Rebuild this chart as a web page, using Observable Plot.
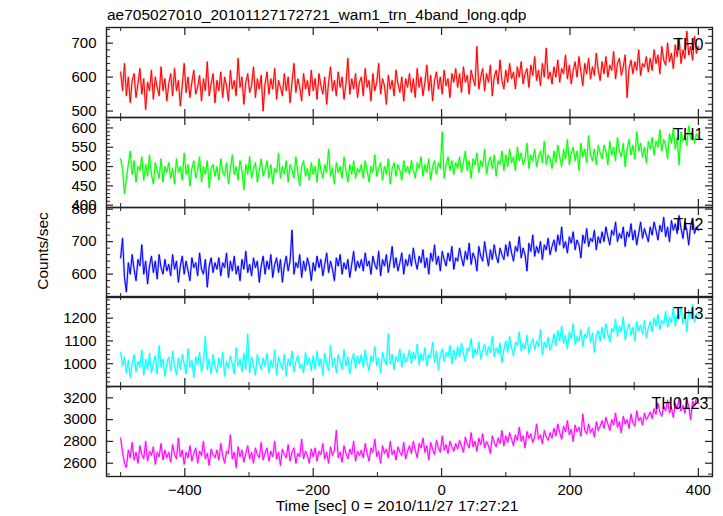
<!DOCTYPE html>
<html><head><meta charset="utf-8">
<script src="https://cdn.jsdelivr.net/npm/d3@7"></script>
<script src="https://cdn.jsdelivr.net/npm/@observablehq/plot@0.6"></script>
<style>
body{margin:0;background:#fff;font-family:"Liberation Sans",Arial,Helvetica,sans-serif;}
#wrap{position:relative;width:723px;height:516px;overflow:hidden;background:#fff;}
.t{position:absolute;color:#000;font-size:15.5px;line-height:1;white-space:nowrap;}
.panel{position:absolute;left:0;}
</style></head><body><div id="wrap">
<div class="t" style="left:107px;top:7px">ae705027010_20101127172721_wam1_trn_4band_long.qdp</div>
<div class="t" style="left:43px;top:251px;transform:translate(-50%,-50%) rotate(-90deg)">Counts/sec</div>
<div class="t" style="left:397px;top:506px;transform:translate(-50%,-50%)">Time [sec] 0 = 2010/11/27 17:27:21</div>
</div>
<script>
// time bins (sec), relative to 2010/11/27 17:27:21
const time = d3.range(-500, 401, 3);

const th0 = [
615,560,640,545,600,525,590,610,540,580,625,550,595,505,585,560,620,535,600,570,545,630,560,595,530,
580,610,545,625,560,590,515,575,640,555,600,540,585,620,550,570,605,530,595,560,645,545,580,610,525,
590,560,615,540,600,575,530,620,565,590,545,655,570,600,520,585,610,555,575,630,540,595,565,605,500,
580,615,550,595,565,625,535,590,570,545,610,560,600,525,585,640,555,595,570,530,610,565,590,545,620,
560,595,535,610,575,550,600,520,585,630,560,590,545,615,570,600,535,580,655,550,595,565,610,540,585,
600,545,625,570,590,530,610,560,585,640,550,595,575,520,605,565,590,545,620,580,555,600,530,595,570,
610,555,595,540,625,570,600,545,585,635,560,605,530,590,615,565,600,550,620,575,595,540,610,585,625,
570,610,555,630,585,605,550,620,595,575,690,565,600,625,560,610,585,635,545,600,620,580,650,590,565,
620,585,640,595,615,565,630,600,645,580,610,625,570,635,605,660,590,620,575,640,600,685,595,615,580,
630,600,650,585,625,610,665,595,635,580,620,645,600,660,615,575,640,610,655,595,630,605,670,620,590,
645,610,660,600,635,620,675,595,640,655,605,630,665,540,625,650,610,645,620,680,605,640,630,660,615,
655,620,680,640,665,610,690,650,635,700,645,670,625,695,660,715,640,680,655,735,665,690,650,720,670,
690];
const th1 = [
520,495,430,470,505,540,480,515,460,500,490,525,465,505,475,530,480,455,510,490,470,520,460,500,485,
510,470,495,455,520,485,500,465,535,480,505,450,495,515,470,490,525,460,500,480,515,445,495,505,475,
500,465,520,485,475,510,455,495,530,480,500,465,515,490,440,505,480,525,470,495,510,460,490,520,475,
490,515,470,505,455,495,485,535,470,500,480,515,460,505,490,470,525,485,450,500,515,475,495,465,510,
480,500,460,520,490,470,505,485,545,475,495,455,510,485,500,470,525,490,460,505,480,515,470,495,485,
505,470,515,490,460,500,485,530,475,495,510,465,500,480,520,455,495,510,475,505,490,465,515,485,500,
480,515,490,470,510,495,525,475,505,485,520,465,500,515,480,510,495,590,470,505,525,490,515,480,510,
495,525,485,510,540,490,515,470,520,505,535,485,515,500,545,480,510,525,495,530,475,515,505,540,490,
530,500,545,510,525,490,550,515,535,505,520,560,495,530,515,545,500,525,540,510,565,505,530,520,495,
540,510,555,525,500,545,520,570,505,535,550,515,540,490,560,525,545,510,580,530,515,545,505,555,535,
520,555,540,505,565,530,550,515,575,540,525,560,500,545,570,530,555,520,590,540,560,525,550,510,565,
545,575,530,565,550,595,540,570,555,520,585,560,600,545,575,505,590,565,580,555,605,570,590,560,585,
575];
const th2 = [
650,710,590,545,635,600,660,615,580,645,625,690,600,640,570,625,655,605,640,585,660,620,600,645,610,
630,595,660,615,640,575,625,655,600,640,610,580,650,620,635,595,665,615,600,645,560,625,650,605,635,
615,650,595,635,620,665,590,640,610,655,600,625,580,645,615,670,605,630,595,650,620,640,575,625,655,
600,640,615,660,590,630,650,605,645,575,625,655,610,640,735,600,635,620,660,590,640,610,650,625,580,
635,610,655,620,645,595,630,665,605,640,615,580,650,625,660,600,635,615,645,590,630,670,610,640,620,
645,610,665,625,640,600,655,630,615,670,595,645,625,660,605,640,685,620,650,610,635,665,600,645,625,
660,625,680,640,615,655,635,675,620,650,600,665,640,690,630,655,610,670,645,625,665,640,685,615,650,
640,680,650,625,670,645,695,630,665,650,610,685,655,640,700,660,625,675,645,690,655,635,680,660,645,
690,655,700,665,640,685,670,715,650,680,660,610,695,670,720,655,685,665,700,645,690,675,710,660,685,
705,670,720,690,745,680,700,665,715,695,730,675,705,690,650,720,695,740,685,710,700,735,675,715,695,
730,700,745,715,690,735,720,760,700,725,710,745,685,730,715,755,705,735,690,725,760,710,740,720,700,
745,720,760,735,705,750,730,775,715,745,700,765,735,755,725,780,740,710,760,735,690,750,770,725,745,
735];
const th3 = [
1050,990,1030,960,1015,940,1000,1040,965,1010,985,1060,950,1020,975,1045,960,1000,1035,955,1080,985,1020,945,1005,
1030,970,1055,990,950,1025,975,1040,1000,955,1065,985,1015,940,1030,995,1050,965,1010,1120,975,1020,955,1040,990,
960,1025,985,1050,945,1010,980,1035,1000,955,1070,990,1020,965,1045,975,1130,960,1030,995,950,1040,1005,975,1025,
990,1045,960,1015,985,1060,950,1030,1000,975,1040,945,1020,990,1055,965,1010,1035,980,1000,960,1050,995,1025,970,
1035,975,1055,990,1020,950,1045,1000,970,1080,985,1025,960,1040,1005,975,1060,990,1030,955,1015,1045,980,1035,1000,
1040,985,1060,1005,970,1035,1010,1075,990,1025,960,1050,1015,995,1130,1000,1040,975,1030,1010,1065,985,1045,1005,1025,
1060,1000,1050,1020,1085,995,1045,1015,1070,990,1040,1025,1095,1005,1055,975,1035,1065,1010,1050,1030,1080,1000,1060,1020,
1075,1030,1090,1045,1010,1070,1055,1110,1025,1065,1040,1095,1020,1060,1085,1035,1075,1050,1120,1030,1070,1045,1090,1005,1060,
1100,1050,1120,1070,1035,1095,1080,1140,1055,1090,1065,1125,1045,1085,1110,1060,1100,1075,1150,1040,1095,1070,1115,1060,1085,
1130,1080,1145,1100,1165,1090,1125,1065,1140,1110,1175,1085,1120,1100,1150,1075,1130,1115,1160,1095,1135,1050,1125,1145,1100,
1160,1110,1175,1130,1095,1155,1140,1195,1120,1165,1140,1205,1105,1150,1175,1125,1160,1100,1185,1145,1170,1130,1190,1115,1155,
1185,1140,1200,1165,1215,1150,1190,1175,1230,1160,1205,1180,1245,1165,1210,1195,1250,1175,1220,1140,1235,1200,1260,1185,1220,
1215];
const th0123 = [
2830,2700,2600,2560,2720,2650,2790,2630,2700,2600,2760,2680,2640,2800,2620,2710,2670,2750,2590,2700,2660,2780,2630,2720,2650,
2700,2610,2770,2680,2640,2830,2660,2720,2590,2700,2650,2760,2620,2690,2740,2600,2710,2670,2800,2640,2690,2580,2730,2680,2650,
2720,2630,2780,2670,2600,2710,2690,2860,2640,2700,2560,2750,2660,2720,2610,2690,2760,2640,2700,2600,2740,2680,2650,2790,2630,
2690,2740,2620,2710,2660,2800,2640,2700,2580,2730,2680,2650,2770,2620,2700,2740,2600,2690,2660,2820,2640,2710,2670,2600,2730,
2660,2740,2620,2710,2680,2780,2640,2700,2600,2750,2670,2720,2900,2650,2700,2610,2760,2690,2640,2730,2680,2800,2620,2710,2670,
2720,2650,2780,2690,2620,2740,2700,2820,2660,2710,2600,2760,2690,2730,2650,2800,2680,2720,2630,2750,2700,2670,2790,2640,2710,
2760,2690,2800,2720,2650,2780,2740,2830,2700,2760,2630,2790,2730,2680,2810,2740,2700,2850,2720,2770,2690,2800,2750,2710,2780,
2730,2810,2760,2700,2840,2780,2740,2880,2750,2800,2710,2830,2770,2870,2740,2800,2760,2690,2850,2790,2750,2830,2780,2900,2760,
2850,2790,2880,2820,2760,2860,2810,2930,2800,2850,2740,2890,2830,2870,2790,2840,2960,2820,2860,2780,2900,2840,2810,2880,2830,
2920,2850,2960,2880,2820,2940,2890,2990,2860,2910,2800,2950,2890,2930,2850,3050,2900,2870,2960,2880,2920,2840,2980,2900,2940,
2990,2920,3020,2960,2900,3000,2950,3060,2930,2980,2880,3030,2960,3000,2920,3050,2970,2940,3080,2990,3020,2950,3060,3000,3030,
3070,3010,3100,3050,3150,3070,3030,3120,3080,3180,3060,3110,3020,3150,3100,3200,3080,3130,3060,3190,3120,3000,3170,3130,3200,
3150];

const names = ["TH0", "TH1", "TH2", "TH3", "TH0123"];
const series = [th0, th1, th2, th3, th0123];
const colors = ["#ff0000", "#00ff00", "#0000ff", "#00ffff", "#ff00ff"];
const yDomains = [[481, 746], [394, 627], [528, 805], [900, 1295], [2478, 3304]];
const yLabels = [[500, 600, 700], [400, 450, 500, 550, 600], [600, 700, 800], [1000, 1100, 1200], [2600, 2800, 3000, 3200]];
const yMinorSteps = [20, 10, 20, 20, 100];
const xDomain = [-522, 422];
const xLabels = [-400, -200, 0, 200, 400];
const xMinor = [-500, -300, -100, 100, 300];

const W = 723, ML = 106, MR = 11, PH = 89.8, TOP = 27;
const PW = W - ML - MR;
const wrap = document.getElementById("wrap");
const font = '"Liberation Sans", Arial, Helvetica, sans-serif';

series.forEach((vals, i) => {
  const data = vals.map((v, k) => ({t: time[k], v}));
  const [lo, hi] = yDomains[i];
  const step = yMinorSteps[i];
  const minor = d3.range(Math.ceil(lo / step) * step, hi, step).filter(v => !yLabels[i].includes(v));
  const last = i === series.length - 1;
  const mt = 10, mb = last ? 40 : 10;
  const h = Math.round(PH);
  const tickCol = "#222";
  const chart = Plot.plot({
    width: W, height: h + mt + mb,
    marginLeft: ML, marginRight: MR, marginTop: mt, marginBottom: mb,
    x: {domain: xDomain},
    y: {domain: yDomains[i]},
    style: {background: "transparent", overflow: "visible", fontFamily: font, fontSize: "15px", color: "#000"},
    marks: [
      Plot.line(data, {x: "t", y: "v", stroke: colors[i], strokeWidth: 2.2, strokeOpacity: 0.3, clip: true}),
      Plot.line(data, {x: "t", y: "v", stroke: colors[i], strokeWidth: 1, clip: true}),
      Plot.frame({stroke: "#222", strokeWidth: 1.4}),
      Plot.ruleY(yLabels[i], {insetRight: PW - 7, stroke: tickCol, strokeWidth: 1.2}),
      Plot.ruleY(yLabels[i], {insetLeft: PW - 7, stroke: tickCol, strokeWidth: 1.2}),
      Plot.ruleY(minor, {insetRight: PW - 4, stroke: tickCol, strokeWidth: 1}),
      Plot.ruleY(minor, {insetLeft: PW - 4, stroke: tickCol, strokeWidth: 1}),
      Plot.ruleX(xLabels, {insetBottom: h - 8, stroke: tickCol, strokeWidth: 1.2}),
      Plot.ruleX(xLabels, {insetTop: h - 8, stroke: tickCol, strokeWidth: 1.2}),
      Plot.ruleX(xMinor, {insetBottom: h - 4, stroke: tickCol, strokeWidth: 1}),
      Plot.ruleX(xMinor, {insetTop: h - 4, stroke: tickCol, strokeWidth: 1}),
      Plot.axisY(yLabels[i], {anchor: "left", tickSize: 0, tickPadding: 10, label: null, fontSize: 15, tickFormat: "d"}),
      last ? Plot.axisX(xLabels, {anchor: "bottom", tickSize: 0, tickPadding: 8, label: null, fontSize: 15}) : Plot.axisX([], {label: null}),
      Plot.text([names[i]], {frameAnchor: "top-right", text: d => d, dx: last ? -4 : -9, dy: 11, fontSize: 16, fill: "#000", textAnchor: "end"})
    ]
  });
  const div = document.createElement("div");
  div.className = "panel";
  div.style.top = (TOP + i * PH - mt) + "px";
  div.appendChild(chart);
  wrap.appendChild(div);
});
</script>
</body></html>
